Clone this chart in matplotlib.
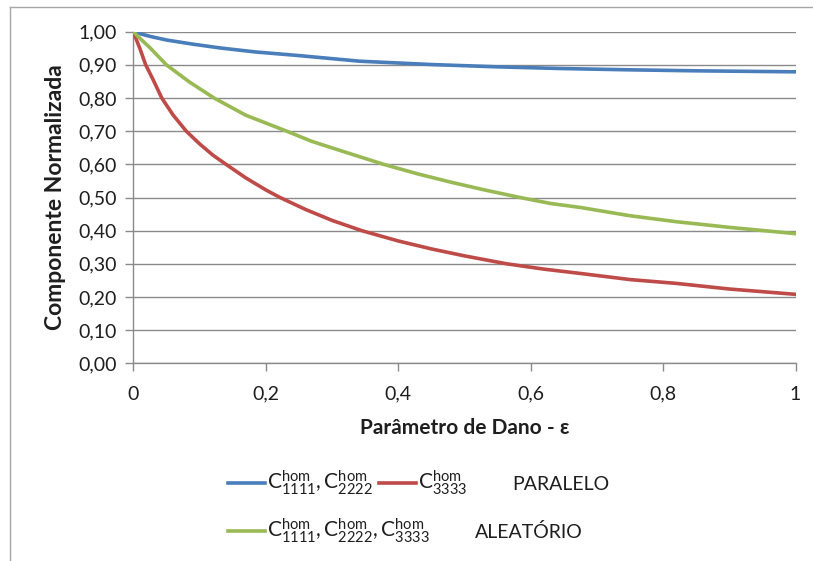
import matplotlib
matplotlib.use("Agg")
import matplotlib.pyplot as plt
from matplotlib.lines import Line2D

plt.rcParams['font.family'] = ['Lato', 'DejaVu Sans']
plt.rcParams['mathtext.fontset'] = 'custom'
plt.rcParams['mathtext.rm'] = 'Lato'
plt.rcParams['mathtext.it'] = 'Lato'

# Data
eps_blue = [0, 0.01, 0.025, 0.05, 0.088, 0.131, 0.184, 0.25, 0.342, 0.45,
            0.55, 0.6445, 0.75, 0.85, 1.0]
val_blue = [1.0, 0.994, 0.986, 0.975, 0.963, 0.951, 0.939, 0.928, 0.911,
            0.901, 0.894, 0.889, 0.885, 0.882, 0.879]

eps_red = [0, 0.005, 0.01, 0.0187, 0.03, 0.043, 0.06, 0.08, 0.1, 0.12, 0.14,
           0.17, 0.2, 0.2216, 0.26, 0.3, 0.345, 0.4, 0.45, 0.5, 0.564, 0.62,
           0.675, 0.75, 0.82, 0.9, 1.0]
val_red = [1.0, 0.974, 0.949, 0.9, 0.855, 0.8, 0.749, 0.7, 0.662, 0.628, 0.6,
           0.559, 0.523, 0.5, 0.464, 0.431, 0.4, 0.369, 0.345, 0.324, 0.3,
           0.284, 0.271, 0.2525, 0.241, 0.224, 0.208]

eps_green = [0, 0.01, 0.025, 0.05, 0.085, 0.122, 0.17, 0.2317, 0.27, 0.312,
             0.378, 0.43, 0.48, 0.53, 0.584, 0.63, 0.675, 0.75, 0.82, 0.9, 1.0]
val_green = [1.0, 0.98, 0.952, 0.9, 0.848, 0.8, 0.748, 0.7, 0.669, 0.642,
             0.6, 0.571, 0.546, 0.523, 0.5, 0.482, 0.47, 0.445, 0.427, 0.41,
             0.391]

y_ticks = [0.0, 0.1, 0.2, 0.3, 0.4, 0.5, 0.6, 0.7, 0.8, 0.9, 1.0]
y_tick_labels = ['0,00', '0,10', '0,20', '0,30', '0,40', '0,50', '0,60',
                 '0,70', '0,80', '0,90', '1,00']
x_ticks = [0, 0.2, 0.4, 0.6, 0.8, 1.0]
x_tick_labels = ['0', '0,2', '0,4', '0,6', '0,8', '1']

lbl_blue = r'$\mathregular{C^{hom}_{1111},C^{hom}_{2222}}$'
lbl_red = r'$\mathregular{C^{hom}_{3333}}$'
lbl_green = r'$\mathregular{C^{hom}_{1111},C^{hom}_{2222},C^{hom}_{3333}}$'
lbl_par = 'PARALELO'
lbl_ale = 'ALEATÓRIO'

BLUE = '#4A7EBB'
RED = '#BE4B48'
GREEN = '#98B954'
GRID = '#8A8A8A'
TXT = '#1e1e1e'

W, H = 813, 561
fig = plt.figure(figsize=(W / 100, H / 100), dpi=100)
fig.patch.set_facecolor('white')

# outer chart frame (left, top)
fig.add_artist(Line2D([10 / W, 10 / W], [0, 1 - 7 / H], transform=fig.transFigure,
                      color='#A6A6A6', lw=1.0))
fig.add_artist(Line2D([10 / W, 1], [1 - 7 / H, 1 - 7 / H], transform=fig.transFigure,
                      color='#A6A6A6', lw=1.0))

left, right = 133.3 / W, 795.5 / W
top, bottom = 1 - 31.7 / H, 1 - 363.3 / H
ax = fig.add_axes([left, bottom, right - left, top - bottom])

lw = 2.6
ax.plot(eps_blue, val_blue, color=BLUE, lw=lw, zorder=3)
ax.plot(eps_red, val_red, color=RED, lw=lw, zorder=3)
ax.plot(eps_green, val_green, color=GREEN, lw=lw, zorder=3)

ax.set_xlim(0, 1)
ax.set_ylim(0, 1)
ax.set_yticks(y_ticks)
ax.set_yticklabels(y_tick_labels)
ax.set_xticks(x_ticks)
ax.set_xticklabels(x_tick_labels)

ax.grid(axis='y', color=GRID, lw=1.0, zorder=1)
for s in ['top', 'right']:
    ax.spines[s].set_visible(False)
for s in ['left', 'bottom']:
    ax.spines[s].set_color(GRID)
    ax.spines[s].set_linewidth(1.0)

ax.tick_params(axis='y', direction='out', length=6, width=1.0, color=GRID,
               pad=6, labelsize=14, labelcolor=TXT)
ax.tick_params(axis='x', direction='out', length=6, width=1.0, color=GRID,
               pad=10, labelsize=14, labelcolor=TXT)

ax.set_xlabel('Parâmetro de Dano - ε', fontsize=15, fontweight='bold',
              color=TXT)
ax.set_ylabel('Componente Normalizada', fontsize=16.5, fontweight='bold',
              color=TXT)
ax.xaxis.set_label_coords(0.5, -0.195)
ax.xaxis.label.set_va('center')
ax.yaxis.set_label_coords(-0.118, 0.5)
ax.yaxis.label.set_va('center')

# Legend
h_blue = Line2D([], [], color=BLUE, lw=lw)
h_red = Line2D([], [], color=RED, lw=lw)
h_green = Line2D([], [], color=GREEN, lw=lw)
h_none = Line2D([], [], color='none', lw=0)

common = dict(frameon=False, handlelength=1.9, handletextpad=0.12,
              borderpad=0, borderaxespad=0, fontsize=14,
              labelcolor=TXT, loc='center left', columnspacing=0.3)
leg1 = fig.legend([h_blue, h_red, h_none], [lbl_blue, lbl_red, lbl_par],
                  ncol=3, bbox_to_anchor=(228 / W, 1 - 483 / H), **common)
leg2 = fig.legend([h_green, h_none], [lbl_green, lbl_ale],
                  ncol=2, bbox_to_anchor=(228 / W, 1 - 531 / H), **common)
for leg in (leg1, leg2):
    for t in leg.get_texts():
        if t.get_text().startswith('$'):
            t.set_fontsize(15)

fig.savefig('out.png', dpi=100, facecolor='white')
